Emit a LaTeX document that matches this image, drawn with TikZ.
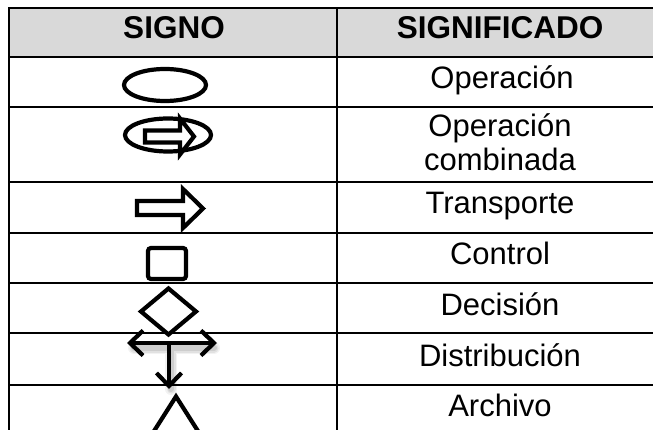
\documentclass[tikz,border=0pt]{standalone}
\usepackage{fontspec}
\setmainfont{Liberation Sans}
\usetikzlibrary{arrows.meta}

\begin{document}
\begin{tikzpicture}[x=1pt, y=-1pt,
  titulo/.style={font=\fontsize{31.5}{34}\selectfont\bfseries, anchor=base},
  celda/.style={font=\fontsize{31}{34}\selectfont, anchor=base, align=center},
  linea/.style={line width=2.6pt},
  signo/.style={line width=4.2pt},
  barba/.tip={Straight Barb[length=13pt, width=25pt]}]
\useasboundingbox (0,0) rectangle (653,430);
\clip (0,0) rectangle (653,430);
% tabla
\fill[gray!30] (9,8) rectangle (663,57);
\draw[linea] (9,8) rectangle (663,445);
\draw[linea] (337,8) -- (337,445);
\foreach \y in {57,107,182,233,283,333,385}
  \draw[linea] (9,\y) -- (663,\y);
% encabezado
\node[titulo] (signo) at (174,39) {SIGNO};
\node[titulo] (significado) at (500,39) {SIGNIFICADO};
% significados
\node[celda] (operacion) at (502,89) {Operación};
\node[celda] (combinada) at (500,171) {Operación\\combinada};
\node[celda] (transporte) at (500,214) {Transporte};
\node[celda] (control) at (500,265) {Control};
\node[celda] (decision) at (500,315) {Decisión};
\node[celda] (distribucion) at (500,366) {Distribución};
\node[celda] (archivo) at (500,416) {Archivo};
% signos
\draw[signo] (165,85) ellipse [x radius=41, y radius=16];
\draw[signo] (168,135) ellipse [x radius=43, y radius=16.5];
\draw[signo, fill=white] (145,130.5) -- (180,130.5) -- (180,118.5) -- (194,136.5)
  -- (180,154.5) -- (180,142.5) -- (145,142.5) -- cycle;
\draw[signo] (137,201) -- (183,201) -- (183,189) -- (203,208.5)
  -- (183,228) -- (183,215) -- (137,215) -- cycle;
\draw[signo, rounded corners=3pt] (148,248) rectangle (186,279);
\draw[signo] (168.5,288.5) -- (196,311.5) -- (168.5,334.5) -- (141,311.5) -- cycle;
% distribucion con sombra
\foreach \w/\o in {12/0.05, 9/0.07, 6/0.09}
  \draw[shift={(2,5)}, black, opacity=\o, line width=\w pt, line cap=round]
    (132,343) -- (212,343) (169,343) -- (169,384);
\draw[signo, barba-barba] (127,343) -- (217,343);
\draw[signo, -barba] (169,343) -- (169,389);
\draw[signo] (128,472) -- (176,396.5) -- (224,472);
\end{tikzpicture}
\end{document}
